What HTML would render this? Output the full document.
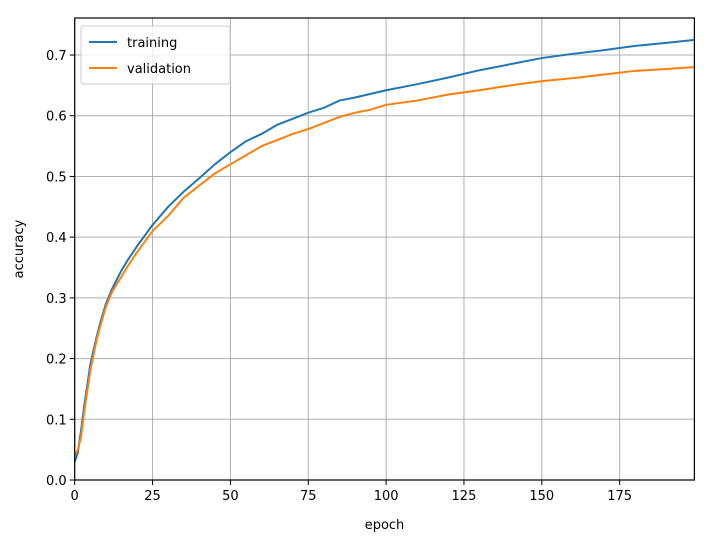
<!DOCTYPE html>
<html><head><meta charset="utf-8"><style>
body{margin:0;background:#fff}
svg text{font-family:"DejaVu Sans","Liberation Sans",sans-serif;font-size:13px;fill:#000}
</style></head><body>
<svg id="chart" width="706" height="541" xmlns="http://www.w3.org/2000/svg">
<rect width="706" height="541" fill="#fff"/>
<g id="grid"></g>
<g id="series"></g>
<rect x="74.7" y="18" width="619.7" height="462" fill="none" stroke="#000" stroke-width="1.2"/>
<g id="ticks"></g>
<text x="384.5" y="529" text-anchor="middle">epoch</text>
<text transform="translate(23,249) rotate(-90)" text-anchor="middle">accuracy</text>
<g>
<rect x="81" y="26" width="149" height="58" rx="3" fill="#fff" fill-opacity="0.8" stroke="#ccc"/>
<line x1="89" y1="42" x2="117" y2="42" stroke="#1f77b4" stroke-width="2"/>
<text x="127" y="47">training</text>
<line x1="89" y1="68" x2="117" y2="68" stroke="#ff7f0e" stroke-width="2"/>
<text x="127" y="73">validation</text>
</g>
</svg>
<script>
const epochs=[0,1,2,3,5,7,8,10,12,15,17,20,25,30,35,40,45,50,55,60,65,70,75,80,85,90,95,100,110,120,130,140,150,160,170,180,190,199];
const training=[0.03,0.045,0.08,0.12,0.19,0.235,0.255,0.29,0.315,0.345,0.362,0.385,0.42,0.45,0.475,0.497,0.52,0.54,0.558,0.57,0.585,0.595,0.605,0.613,0.625,0.63,0.636,0.642,0.652,0.663,0.675,0.685,0.695,0.702,0.708,0.715,0.72,0.725];
const validation=[0.04,0.05,0.07,0.11,0.18,0.23,0.25,0.285,0.31,0.335,0.352,0.375,0.41,0.435,0.465,0.485,0.505,0.52,0.535,0.55,0.56,0.57,0.578,0.588,0.598,0.605,0.61,0.618,0.625,0.635,0.642,0.65,0.657,0.662,0.668,0.674,0.677,0.68];
const xTicks=[0,25,50,75,100,125,150,175];
const yTicks=[0,0.1,0.2,0.3,0.4,0.5,0.6,0.7];
const L=74.7,R=694.4,T=18,B=480,XMAX=199,YMAX=0.761;
const sx=v=>L+(R-L)*v/XMAX, sy=v=>B-(B-T)*v/YMAX;
const NS='http://www.w3.org/2000/svg';
function mk(tag,parent,attrs){const e=document.createElementNS(NS,tag);for(const k in attrs)e.setAttribute(k,attrs[k]);parent.appendChild(e);return e;}
const grid=document.getElementById('grid'),ticks=document.getElementById('ticks'),series=document.getElementById('series');
xTicks.forEach(t=>{const x=sx(t);
 const g=mk('line',grid,{x1:x,x2:x,y1:T,y2:B,stroke:'#b0b0b0','stroke-width':1});
 
 
 const tk=mk('line',ticks,{x1:x,x2:x,y1:B,y2:B+5,stroke:'#000'});
 
 
 const lb=mk('text',ticks,{x:x,y:B+20,'text-anchor':'middle'});lb.textContent=t;
 
 
});
yTicks.forEach(t=>{const y=sy(t);
 const g=mk('line',grid,{x1:L,x2:R,y1:y,y2:y,stroke:'#b0b0b0','stroke-width':1});
 
 
 const tk=mk('line',ticks,{x1:L-5,x2:L,y1:y,y2:y,stroke:'#000'});
 
 
 const lb=mk('text',ticks,{x:L-8,y:y+5,'text-anchor':'end'});lb.textContent=t.toFixed(1);
 
 
});
function line(vals,color,name){
 const p=mk('polyline',series,{points:epochs.map((e,i)=>sx(e)+','+sy(vals[i])).join(' '),fill:'none',stroke:color,'stroke-width':2,'stroke-linejoin':'round'});
 
 
}
line(training,'#1f77b4','training-line');
line(validation,'#ff7f0e','validation-line');
</script>
</body></html>
